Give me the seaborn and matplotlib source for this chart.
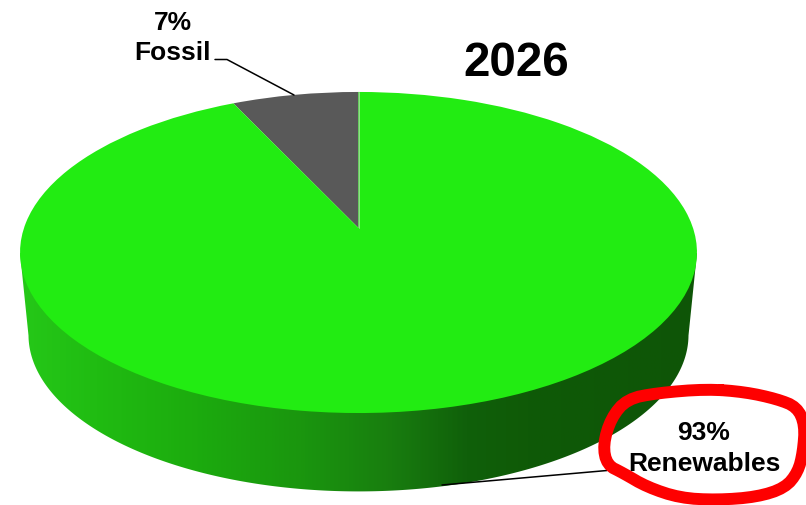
import numpy as np
import seaborn as sns
import matplotlib.pyplot as plt
import matplotlib.transforms as mtransforms
from matplotlib.colors import LinearSegmentedColormap
from matplotlib.patches import Polygon

sns.set_theme(style="white")
plt.rcParams['font.family'] = ['Liberation Sans', 'DejaVu Sans']

year = '2026'
sources = ['Fossil', 'Renewables']
shares = [7, 93]
slice_colors = ['#595959', '#22ec12']

# wall shading, left to right
wall_colors = ['#25c818', '#20bc12', '#1cab0e', '#1a950e', '#187d0f', '#10600a', '#0f5a07', '#0e5507']

# hand drawn ring around the renewables label (pixels)
ring_x = [707, 745, 777, 797, 805, 803, 798, 785, 757, 717, 680, 647, 623, 607, 603, 611, 627, 657]
ring_y = [389, 392, 399, 407, 425, 452, 472, 488, 497, 500, 498, 487, 473, 465, 445, 418, 399, 393]


class PieView(mtransforms.Transform):
    # tilts the flat unit pie into the picture, near edge looks bigger
    input_dims = 2
    output_dims = 2
    is_separable = False

    def __init__(self, cx, cy, a, b, k):
        super().__init__()
        self.cx, self.cy, self.a, self.b, self.k = cx, cy, a, b, k

    def transform_non_affine(self, values):
        values = np.asarray(values)
        w = 1 + self.k * values[:, 1]
        return np.column_stack([self.cx + self.a * values[:, 0] / w,
                                self.cy - self.b * values[:, 1] / w])


def smooth_loop(x, y, passes=2):
    # corner cutting so the ring looks like a pen stroke
    pts = np.column_stack([x, y]).astype(float)
    for _ in range(passes):
        nxt = np.roll(pts, -1, axis=0)
        pts = np.column_stack([0.75 * pts + 0.25 * nxt, 0.25 * pts + 0.75 * nxt]).reshape(-1, 2)
    return np.vstack([pts, pts[:1]])


fig, ax = plt.subplots(figsize=(8.06, 5.05), dpi=100)
fig.subplots_adjust(0, 0, 1, 1)

top = PieView(358.5, 228, 334.5, 156.8, 0.1526)
bottom = PieView(358.5, 311, 334.5 * 0.975, 156.8 * 0.975, 0.1526)

wedges, _ = ax.pie(shares, colors=slice_colors, startangle=90, radius=1,
                   wedgeprops={'linewidth': 0})
for w in wedges:
    w.set_transform(top + ax.transData)
    w.set_zorder(3)

ax.set_aspect('auto')
ax.set_xlim(0, 806)
ax.set_ylim(505, 0)

# side wall, gradient clipped to the space under the top face
t = np.linspace(0, 2 * np.pi, 721)
circle = np.column_stack([np.cos(t), np.sin(t)])
top_rim = top.transform_non_affine(circle)
low_rim = bottom.transform_non_affine(circle)
low_rim = low_rim[np.argsort(low_rim[:, 0])]
low_cy = 0.5 * (low_rim[:, 1].min() + low_rim[:, 1].max())
low_half = low_rim[low_rim[:, 1] >= low_cy]
wall_path = np.vstack([top_rim[np.argmin(top_rim[:, 0])], low_half, top_rim[np.argmax(top_rim[:, 0])]])

wall_cmap = LinearSegmentedColormap.from_list('wall', [(0.0, wall_colors[0]), (0.11, wall_colors[1]),
                                                       (0.26, wall_colors[2]), (0.42, wall_colors[3]),
                                                       (0.55, wall_colors[4]), (0.66, wall_colors[5]),
                                                       (0.75, wall_colors[6]), (1.0, wall_colors[7])])
img = ax.imshow(np.linspace(0, 1, 400)[None, :], cmap=wall_cmap, aspect='auto',
                extent=(wall_path[:, 0].min(), wall_path[:, 0].max(), 505, 200), zorder=2)
clip = Polygon(wall_path, closed=True, transform=ax.transData, facecolor='none', edgecolor='none')
ax.add_patch(clip)
img.set_clip_path(clip)
ax.set_xlim(0, 806)
ax.set_ylim(505, 0)

# light seam on the right side of the fossil slice
seam = top.transform_non_affine(np.array([[0.0, 0.0], [0.0, 1.0]]))
ax.plot(seam[:, 0], seam[:, 1], color='#c4d8bc', lw=0.5, zorder=4)

# leader lines
ax.plot([215, 227, 294], [59.5, 59.5, 95], color='black', lw=1.1, zorder=5)
ax.plot([442, 607], [485, 470.5], color='black', lw=1.1, zorder=5)

ring = smooth_loop(ring_x, ring_y)
ax.plot(ring[:, 0], ring[:, 1], color='#fe0000', lw=8.6, solid_capstyle='round', zorder=6)

ax.text(172.5, 38, f'{shares[0]}%\n{sources[0]}', ha='center', va='center', fontsize=19,
        fontweight='bold', color='black', linespacing=1.36, zorder=7)
ax.text(704, 448.5, f'{shares[1]}%\n{sources[1]}', ha='center', va='center', fontsize=19,
        fontweight='bold', color='black', linespacing=1.36, zorder=7)
ax.text(516, 63, year, ha='center', va='center', fontsize=34.3, fontweight='bold', color='black', zorder=7)

fig.savefig('out.png', dpi=100)
